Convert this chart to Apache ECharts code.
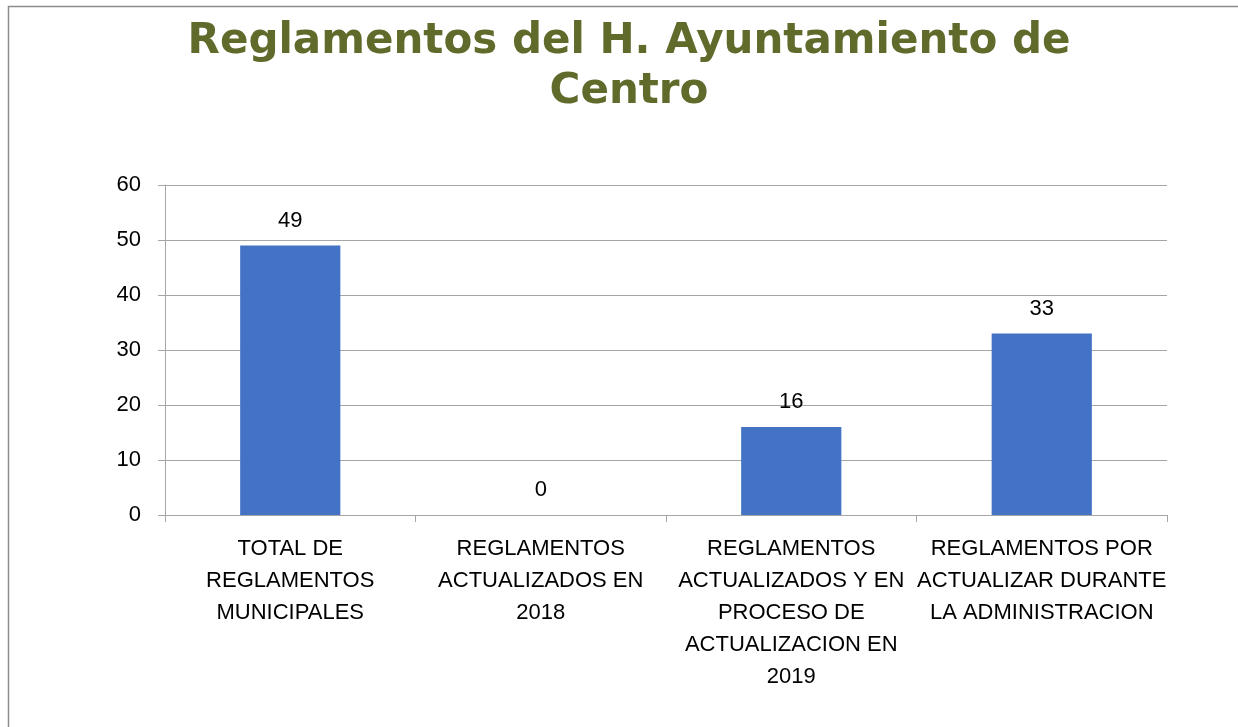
<!DOCTYPE html>
<html>
<head>
<meta charset="utf-8">
<script src="https://cdn.jsdelivr.net/npm/echarts@6/dist/echarts.min.js"></script>
<style>
  html, body { margin: 0; padding: 0; background: #fff; }
  #chart { width: 1238px; height: 727px; }
</style>
</head>
<body>
<div id="chart"></div>
<script>
const categories = [
  'TOTAL DE\nREGLAMENTOS\nMUNICIPALES',
  'REGLAMENTOS\nACTUALIZADOS EN\n2018',
  'REGLAMENTOS\nACTUALIZADOS Y EN\nPROCESO DE\nACTUALIZACION EN\n2019',
  'REGLAMENTOS POR\nACTUALIZAR DURANTE\nLA ADMINISTRACION'
];
const values = [49, 0, 16, 33];
const yTicks = { min: 0, max: 60, interval: 10 };

const FONT = '"Liberation Sans", Arial, sans-serif';

const chart = echarts.init(document.getElementById('chart'), null, { renderer: 'canvas' });
chart.setOption({
  animation: false,
  graphic: [
    {
      type: 'rect',
      shape: { x: 8.5, y: 6.5, width: 1300, height: 800 },
      style: { fill: 'none', stroke: '#8c8c8c', lineWidth: 1.5 },
      silent: true
    },
    {
      type: 'text',
      x: 629,
      y: 17,
      style: {
        text: 'Reglamentos del H. Ayuntamiento de\nCentro',
        fontFamily: '"DejaVu Sans", Verdana, sans-serif',
        fontWeight: 'bold',
        fontSize: 42,
        lineHeight: 50,
        fill: '#5f6a2b',
        textAlign: 'center'
      }
    }
  ],
  grid: { left: 165, right: 71, top: 185, bottom: 212, containLabel: false },
  xAxis: {
    type: 'category',
    data: categories,
    axisLine: { show: true, lineStyle: { color: '#a6a6a6', width: 1 } },
    axisTick: { show: true, length: 7, lineStyle: { color: '#a6a6a6' } },
    axisLabel: {
      interval: 0,
      margin: 18,
      fontFamily: FONT,
      fontSize: 22,
      lineHeight: 32,
      color: '#000',
      align: 'center'
    }
  },
  yAxis: {
    type: 'value',
    min: yTicks.min,
    max: yTicks.max,
    interval: yTicks.interval,
    axisLine: { show: true, lineStyle: { color: '#a6a6a6', width: 1 } },
    axisTick: { show: true, length: 7, lineStyle: { color: '#a6a6a6' } },
    splitLine: { show: true, lineStyle: { color: '#a6a6a6', width: 1 } },
    axisLabel: {
      margin: 24,
      fontFamily: FONT,
      fontSize: 22,
      color: '#000'
    }
  },
  series: [{
    type: 'bar',
    data: values,
    barWidth: '40%',
    itemStyle: { color: '#4472c4' },
    label: {
      show: true,
      position: 'top',
      distance: 14,
      fontFamily: FONT,
      fontSize: 22,
      color: '#000'
    }
  }]
});
</script>
</body>
</html>
